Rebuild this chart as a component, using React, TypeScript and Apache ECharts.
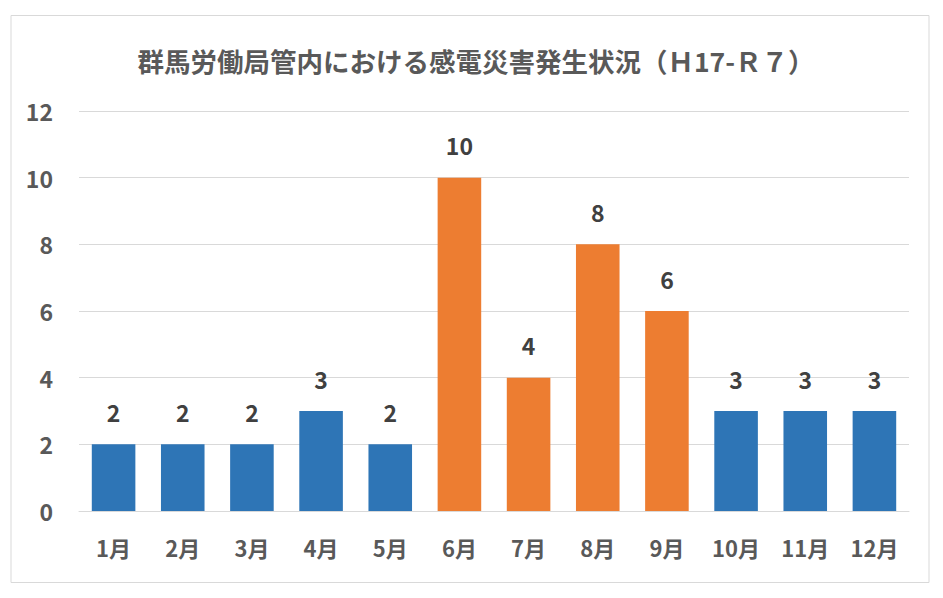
import React, { useEffect, useRef } from "react";
import * as echarts from "echarts";

const titleText = "群馬労働局管内における感電災害発生状況（Ｈ17-Ｒ７）";
const months = ["1月", "2月", "3月", "4月", "5月", "6月", "7月", "8月", "9月", "10月", "11月", "12月"];
const counts = [2, 2, 2, 3, 2, 10, 4, 8, 6, 3, 3, 3];
const highlighted = ["6月", "7月", "8月", "9月"];

const BLUE = "#2E75B6";
const ORANGE = "#ED7D31";
const FONT = "'Noto Sans CJK JP', 'Noto Sans', sans-serif";

export default function App() {
  const ref = useRef<HTMLDivElement>(null);
  useEffect(() => {
    if (!ref.current) return;
    const chart = echarts.init(ref.current, undefined, { renderer: "svg" });
    chart.setOption({
      animation: false,
      backgroundColor: "#ffffff",
      textStyle: { fontFamily: FONT },
      graphic: [
        {
          type: "rect",
          shape: { x: 11, y: 15.5, width: 918, height: 567 },
          style: { fill: "none", stroke: "#d9d9d9", lineWidth: 1 },
          silent: true,
        },
        {
          type: "text",
          x: 476,
          y: 60,
          silent: true,
          style: {
            text: titleText,
            align: "center",
            verticalAlign: "middle",
            fontFamily: FONT,
            fontSize: 26.5,
            fontWeight: "bold",
            fill: "#595959",
          },
        },
      ],
      grid: { left: 79, right: 34, top: 111, bottom: 87, containLabel: false },
      xAxis: {
        type: "category",
        data: months,
        axisLine: { show: true, lineStyle: { color: "#d9d9d9", width: 1 } },
        axisTick: { show: false },
        axisLabel: { margin: 25, fontSize: 22, fontWeight: "bold", color: "#595959", fontFamily: FONT },
      },
      yAxis: {
        type: "value",
        min: 0,
        max: 12,
        interval: 2,
        axisLine: { show: false },
        axisTick: { show: false },
        splitLine: { lineStyle: { color: "#d9d9d9", width: 1 } },
        axisLabel: { margin: 26, fontSize: 23, fontWeight: "bold", color: "#595959", fontFamily: FONT },
      },
      series: [
        {
          type: "bar",
          barWidth: "63%",
          data: counts.map((v, i) => ({
            value: v,
            itemStyle: { color: highlighted.includes(months[i]) ? ORANGE : BLUE },
          })),
          label: {
            show: true,
            position: "top",
            distance: 21,
            fontSize: 23,
            fontWeight: "bold",
            color: "#404040",
            fontFamily: FONT,
          },
        },
      ],
    });
    return () => chart.dispose();
  }, []);
  return (
    <div style={{ position: "absolute", left: 0, top: 0, width: 943, height: 598 }}>
      <div ref={ref} style={{ width: 943, height: 598 }} />
    </div>
  );
}
